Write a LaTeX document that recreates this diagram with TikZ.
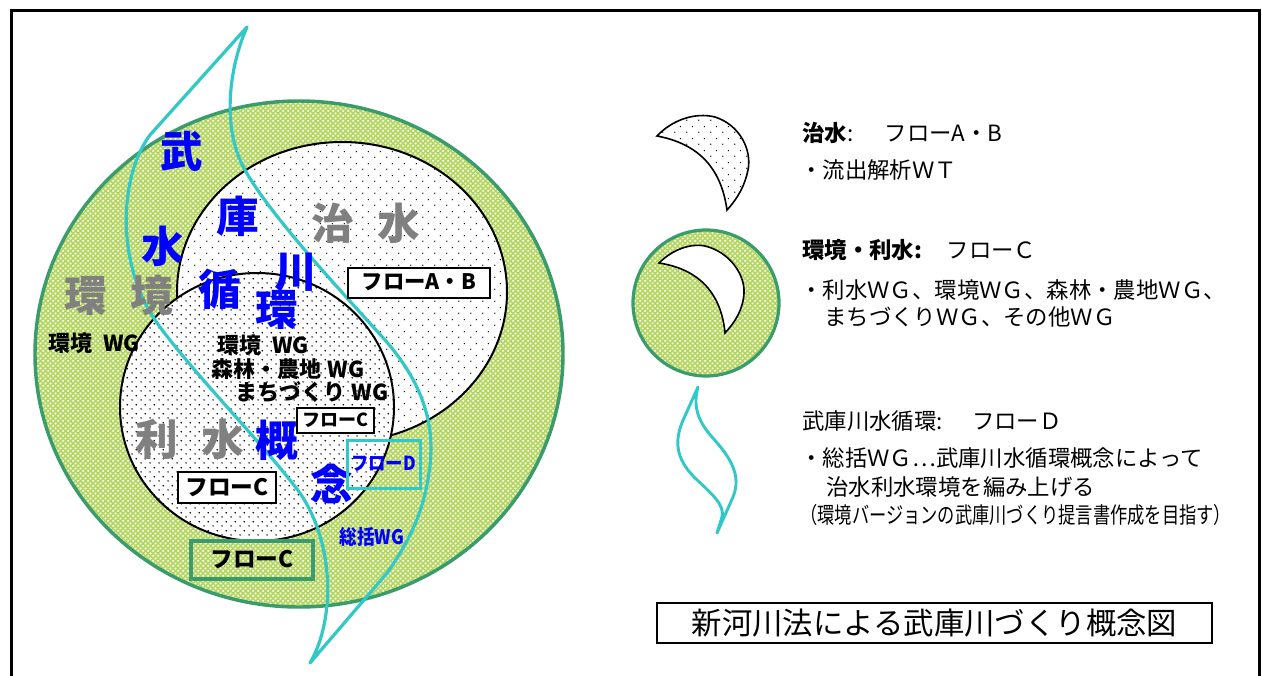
\documentclass[tikz,border=0pt]{standalone}
\usepackage{fontspec}
\usepackage{graphicx}
\setmainfont{Noto Sans CJK JP}
\usetikzlibrary{patterns}

\pgfdeclarepatternformonly{sparsedots}{\pgfqpoint{0pt}{0pt}}{\pgfqpoint{9pt}{9pt}}{\pgfqpoint{9pt}{9pt}}{%
 \pgfpathcircle{\pgfqpoint{2.25pt}{2.25pt}}{0.6pt}%
 \pgfpathcircle{\pgfqpoint{6.75pt}{6.75pt}}{0.6pt}%
 \pgfusepath{fill}}
\pgfdeclarepatternformonly{densedots}{\pgfqpoint{0pt}{0pt}}{\pgfqpoint{6.5pt}{6.5pt}}{\pgfqpoint{6.5pt}{6.5pt}}{%
 \pgfpathcircle{\pgfqpoint{1.6pt}{1.6pt}}{0.6pt}%
 \pgfpathcircle{\pgfqpoint{4.85pt}{4.85pt}}{0.6pt}%
 \pgfusepath{fill}}
\pgfdeclarepatternformonly{ringdots}{\pgfqpoint{0pt}{0pt}}{\pgfqpoint{4pt}{4pt}}{\pgfqpoint{4pt}{4pt}}{%
 \pgfpathcircle{\pgfqpoint{1pt}{1pt}}{0.95pt}%
 \pgfpathcircle{\pgfqpoint{3pt}{3pt}}{0.95pt}%
 \pgfusepath{fill}}

\definecolor{ringgreen}{RGB}{178,214,92}
\definecolor{ringedge}{RGB}{58,155,108}
\definecolor{river}{RGB}{51,200,200}
\definecolor{labgrey}{RGB}{128,128,128}

\tikzset{
 ringfill/.style={preaction={fill=ringgreen}, pattern=ringdots, pattern color=white, draw=ringedge, line width=2.6pt},
 zone/.style={preaction={fill=white}, pattern color=black, draw=black, line width=1.5pt},
 riverline/.style={draw=river, line width=2.4pt, line join=round},
 bluech/.style={text=blue, font=\bfseries\fontsize{32}{32}\selectfont, inner sep=0pt},
 greych/.style={text=labgrey, font=\bfseries\fontsize{32}{32}\selectfont, inner sep=0pt},
 wglab/.style={font=\bfseries\fontsize{16.5}{18}\selectfont, inner sep=0pt},
 flowbox/.style={draw=black, fill=white, line width=1.5pt, inner sep=0pt, font=\bfseries\fontsize{16}{18}\selectfont},
 leg/.style={anchor=west, inner sep=0pt, font=\fontsize{16.8}{18}\selectfont},
}

\begin{document}
\begin{tikzpicture}[x=0.75pt,y=-0.75pt]
\useasboundingbox (0,0) rectangle (1262,675);
\clip (0,0) rectangle (1262,675);

% frame
\draw[line width=2.25pt] (11,10) rectangle (1259.5,700);

% zones
\path[ringfill] (299,354) ellipse [x radius=264, y radius=253];
\path[zone, pattern=sparsedots] (342,292) ellipse [x radius=165, y radius=150];
\path[zone, pattern=densedots] (257,407) ellipse [x radius=137, y radius=134];

% river shape
\draw[riverline] (247,27) -- (150,135)
  .. controls (120,175) and (115,260) .. (155,320)
  .. controls (190,370) and (260,440) .. (300,493)
  .. controls (335,545) and (335,620) .. (310,663)
  -- (387,573)
  .. controls (410,540) and (425,510) .. (430,465)
  .. controls (435,420) and (420,380) .. (385,340)
  .. controls (340,290) and (270,215) .. (245,170)
  .. controls (222,130) and (228,70) .. (247,27) -- cycle;

% grey zone labels
\node[greych] (chisui) at (366,223) {治\hspace{17.5pt}水};
\node[greych] (kankyo) at (119,295) {環\hspace{17.5pt}境};
\node[greych] (risui) at (189.5,439) {利\hspace{17.5pt}水};

% blue river characters
\node[bluech] (c1) at (182,151) {武};
\node[bluech] (c2) at (238,216) {庫};
\node[bluech] (c3) at (163,246) {水};
\node[bluech] (c4) at (296,272) {川};
\node[bluech] (c5) at (220,289) {循};
\node[bluech] (c6) at (277,310) {環};
\node[bluech] (c7) at (277,440) {概};
\node[bluech] (c8) at (332,484) {念};

% WG labels
\node[wglab] (wg1) at (94,343) {環境\hspace{0.5em}WG};
\node[wglab] (wg2) at (263,345) {環境\hspace{0.5em}WG};
\node[wglab] (wg3) at (288,369) {森林・農地\hspace{0.3em}WG};
\node[wglab] (wg4) at (312,392) {まちづくり\hspace{0.3em}WG};
\node[inner sep=0pt, text=blue, font=\bfseries\fontsize{15}{16}\selectfont] (sokatsu) at (372,537) {\scalebox{0.88}[1]{総括WG}};

% flow boxes
\node[flowbox, minimum width=106.5pt, minimum height=22.5pt] (fab) at (419,282.5) {フローA・B};
\node[flowbox, minimum width=57.75pt, minimum height=18.75pt, font=\bfseries\fontsize{13.5}{15}\selectfont] (fc1) at (335.5,420.5) {フローC};
\node[flowbox, minimum width=73.5pt, minimum height=23.25pt, font=\bfseries\fontsize{17}{18}\selectfont] (fc2) at (227,487.5) {フローC};
\node[draw=ringedge, line width=2.6pt, inner sep=0pt, minimum width=91.5pt, minimum height=28.5pt, font=\bfseries\fontsize{17}{18}\selectfont] (fc3) at (252,560) {\raisebox{-4pt}{フローC}};
\node[draw=river, line width=2.25pt, inner sep=0pt, minimum width=54.75pt, minimum height=36pt, text=blue, font=\bfseries\fontsize{14.5}{15}\selectfont] (fd) at (383.5,464) {\raisebox{-3pt}{\scalebox{0.9}[1]{フローD}}};

% legend symbols
\path[zone, pattern=sparsedots, line width=1.2pt] (657,136)
  .. controls (672,120) and (695,112) .. (715,117)
  .. controls (740,125) and (752,150) .. (748,170)
  .. controls (745,185) and (738,198) .. (727,210)
  .. controls (722,175) and (705,145) .. (657,136) -- cycle;
\path[preaction={fill=ringgreen}, pattern=ringdots, pattern color=white, draw=ringedge, line width=2.4pt] (706,303) circle [radius=73];
\draw[fill=white, line width=1.2pt] (659,263)
  .. controls (672,250) and (690,243) .. (705,246)
  .. controls (730,252) and (745,275) .. (744,293)
  .. controls (743,310) and (735,322) .. (725,333)
  .. controls (722,300) and (705,270) .. (659,263) -- cycle;
\draw[riverline, line width=2.2pt] (698,387) -- (684,418)
  .. controls (674,440) and (675,458) .. (695,478)
  .. controls (712,494) and (725,505) .. (722,517) -- (717,533) -- (733,497)
  .. controls (742,475) and (730,457) .. (712,437)
  .. controls (697,420) and (693,405) .. (698,387) -- cycle;

% legend texts
\node[leg] (l1) at (802,133) {\textbf{治水}:\hspace{1.4em}フローA・B};
\node[leg] (l2) at (800,170) {・流出解析ＷＴ};
\node[leg] (l3) at (802,250) {\textbf{環境・利水:}\hspace{1.1em}フローＣ};
\node[leg] (l4) at (800,290) {・利水ＷＧ、環境ＷＧ、森林・農地ＷＧ、};
\node[leg] (l5) at (824,317) {まちづくりＷＧ、その他ＷＧ};
\node[leg] (l6) at (802,421) {武庫川水循環:\hspace{1.3em}フローＤ};
\node[leg] (l7) at (800,458) {・総括ＷＧ…武庫川水循環概念によって};
\node[leg] (l8) at (826,487) {治水利水環境を編み上げる};
\node[leg] (l9) at (800,515) {\scalebox{0.77}[1]{（環境バージョンの武庫川づくり提言書作成を目指す）}};

% title
\node[draw=black, line width=1.6pt, minimum width=416.25pt, minimum height=30pt, inner sep=0pt, font=\fontsize{22.8}{24}\selectfont] (title) at (934.5,623) {新河川法による武庫川づくり概念図};
\end{tikzpicture}
\end{document}
